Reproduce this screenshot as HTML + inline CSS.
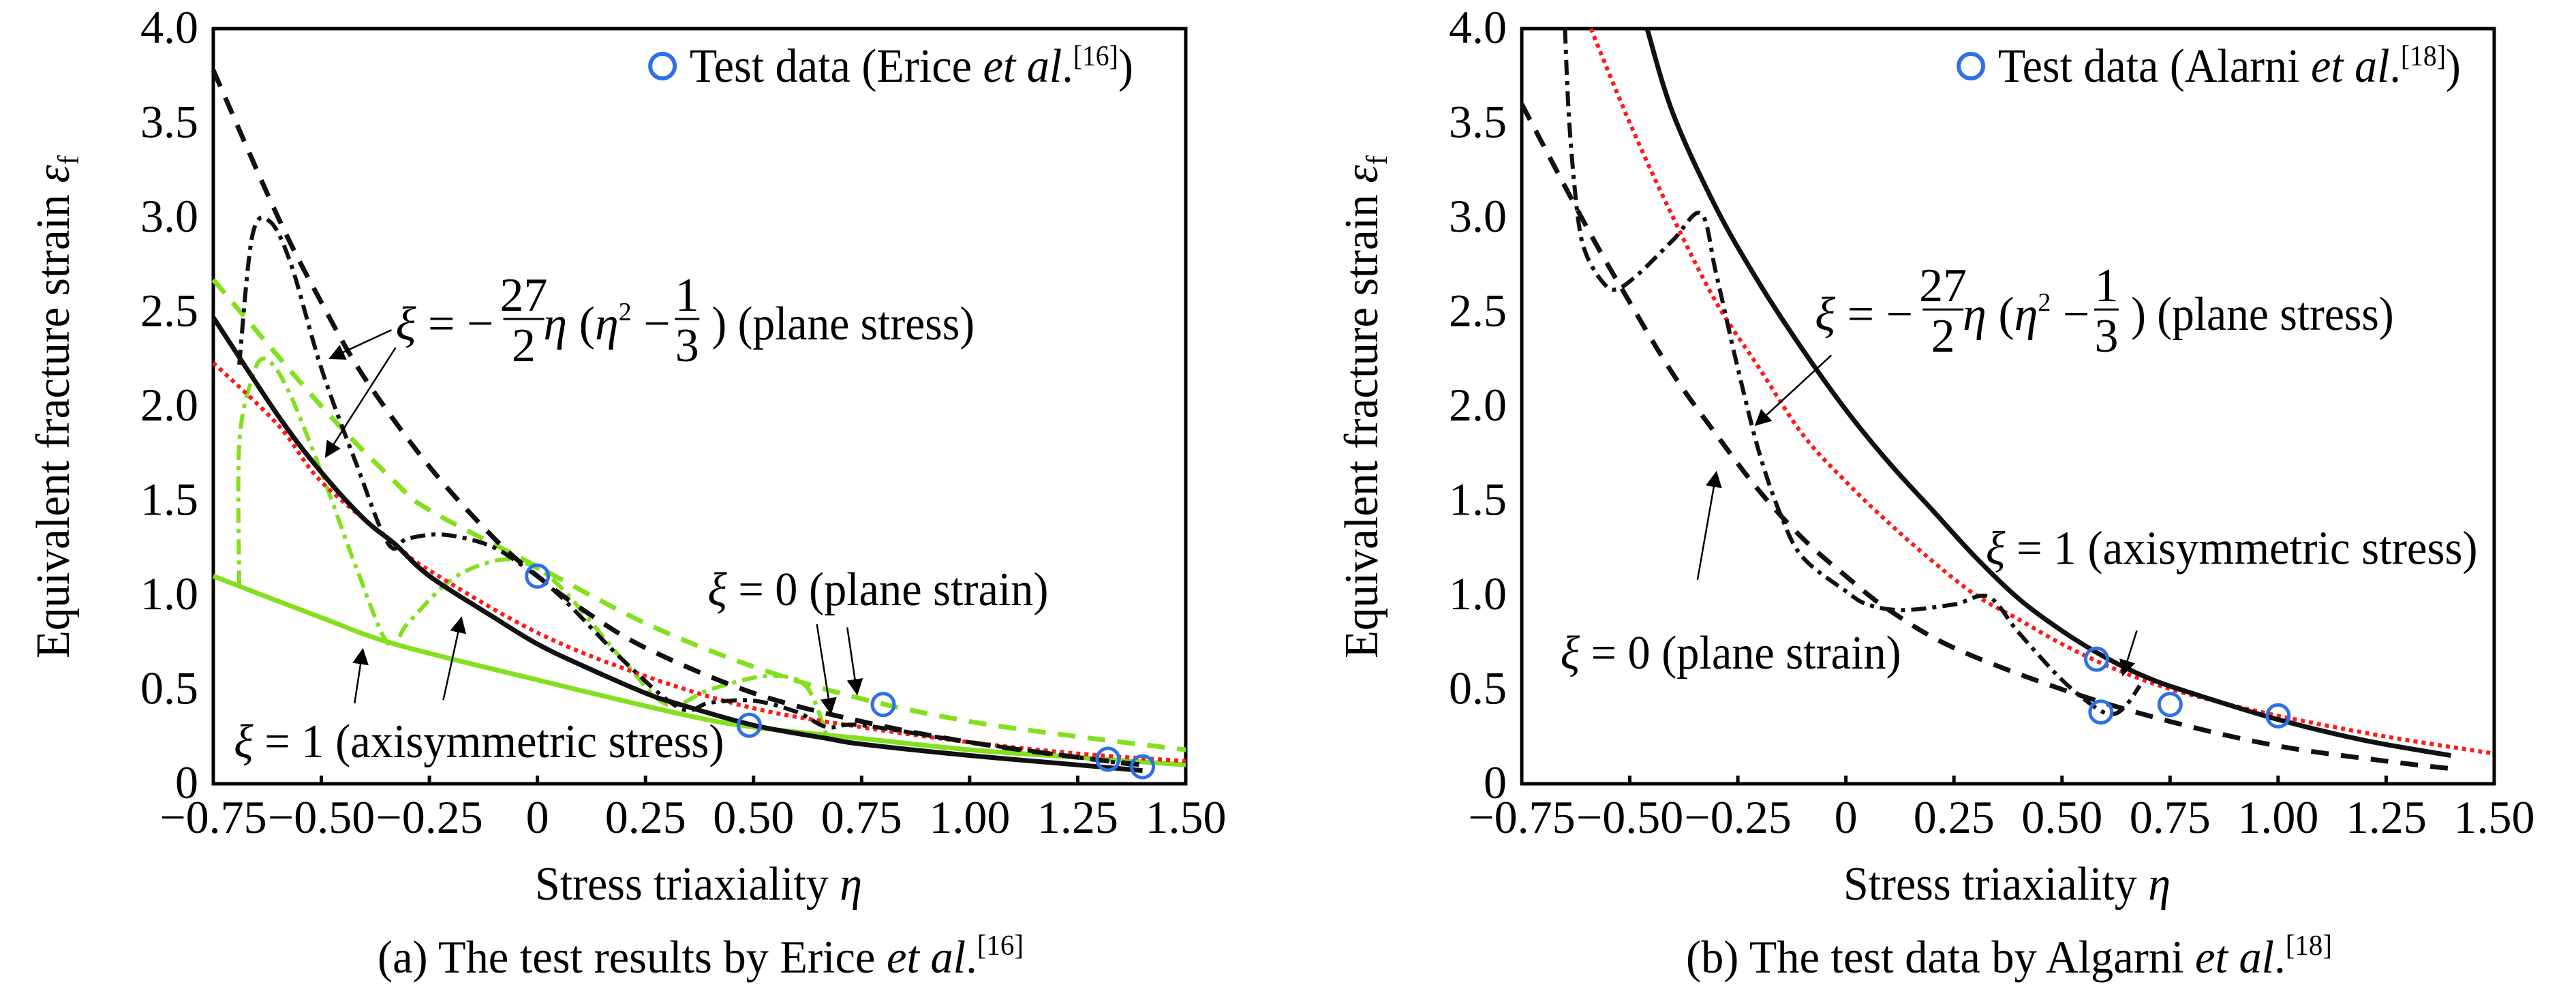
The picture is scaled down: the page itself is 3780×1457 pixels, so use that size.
<!DOCTYPE html>
<html><head><meta charset="utf-8"><style>
html,body{margin:0;padding:0;background:#fff;}
svg{display:block;}
svg text{font-family:"Liberation Serif","Times New Roman",serif;}
</style></head><body>
<svg id="fig" width="3780" height="1457" viewBox="0 0 3780 1457" xmlns="http://www.w3.org/2000/svg" font-family="Liberation Serif, serif">
<defs>
<marker id="ah" viewBox="0 0 10 10" refX="9" refY="5" markerWidth="24" markerHeight="24" markerUnits="userSpaceOnUse" orient="auto"><path d="M0,0 L10,5 L0,10 z" fill="#000"/></marker>
</defs>
</svg>
<script>
// ---------- data: panel (a) ----------
const xTicks = [-0.75,-0.5,-0.25,0,0.25,0.5,0.75,1.0,1.25,1.5];
const xTickLabels = ["\u22120.75","\u22120.50","\u22120.25","0","0.25","0.50","0.75","1.00","1.25","1.50"];
const yTicks = [0,0.5,1,1.5,2,2.5,3,3.5,4];
const yTickLabels = ["0","0.5","1.0","1.5","2.0","2.5","3.0","3.5","4.0"];

const aSolidX = [-0.75,-0.6,-0.5,-0.4,-0.33,-0.25,-0.1,0,0.1,0.25,0.33,0.5,0.67,0.75,1.0,1.25,1.4];
const aSolidY = [2.47,1.95,1.65,1.4,1.27,1.1,0.88,0.74,0.63,0.48,0.42,0.31,0.24,0.21,0.15,0.1,0.07];
const aRedX = [-0.75,-0.6,-0.5,-0.33,-0.25,0,0.25,0.5,0.75,1.0,1.25,1.5];
const aRedY = [2.23,1.9,1.6,1.27,1.13,0.8,0.57,0.4,0.3,0.22,0.16,0.12];
const aGreenSolidX = [-0.75,-0.5,-0.33,0,0.33,0.5,0.75,1.0,1.25,1.5];
const aGreenSolidY = [1.1,0.88,0.74,0.55,0.37,0.3,0.24,0.18,0.14,0.1];
const aDashX = [-0.75,-0.6,-0.5,-0.4,-0.25,-0.1,0,0.1,0.25,0.5,0.75,1.0,1.25,1.4];
const aDashY = [3.78,3.0,2.55,2.15,1.68,1.3,1.1,0.93,0.72,0.48,0.33,0.22,0.14,0.1];
const aGreenDashX = [-0.75,-0.5,-0.33,-0.25,0,0.25,0.5,0.75,1.0,1.25,1.5];
const aGreenDashY = [2.67,2.0,1.6,1.45,1.15,0.85,0.62,0.45,0.33,0.25,0.18];
const aDashDotX = [-0.69,-0.66,-0.62,-0.57,-0.5,-0.42,-0.345,-0.3,-0.22,-0.12,-0.05,0.05,0.2,0.33,0.4,0.5,0.6,0.67,0.75,1.0,1.25,1.38];
const aDashDotY = [2.22,2.9,2.98,2.75,2.2,1.7,1.27,1.3,1.32,1.27,1.18,1.0,0.65,0.4,0.43,0.44,0.38,0.3,0.31,0.22,0.14,0.1];
const aGreenDDX = [-0.69,-0.69,-0.66,-0.63,-0.58,-0.5,-0.42,-0.345,-0.3,-0.2,-0.1,-0.03,0.05,0.2,0.3,0.4,0.53,0.62,0.67];
const aGreenDDY = [1.05,1.8,2.15,2.25,2.1,1.65,1.15,0.74,0.85,1.08,1.18,1.17,1.05,0.65,0.42,0.5,0.57,0.52,0.25];
const aTestX = [0,0.49,0.8,1.32,1.4];
const aTestY = [1.1,0.31,0.42,0.13,0.09];

// ---------- data: panel (b) ----------
const bSolidX = [-0.46,-0.4,-0.3,-0.2,-0.1,0,0.1,0.2,0.3,0.4,0.5,0.6,0.7,0.8,1.0,1.2,1.4];
const bSolidY = [4.0,3.55,3.05,2.65,2.3,1.98,1.7,1.45,1.2,0.98,0.81,0.67,0.56,0.48,0.34,0.23,0.15];
const bRedX = [-0.59,-0.5,-0.4,-0.3,-0.2,-0.1,0,0.1,0.2,0.3,0.4,0.5,0.6,0.7,0.8,1.0,1.25,1.5];
const bRedY = [4.0,3.5,3.0,2.55,2.2,1.85,1.6,1.38,1.18,1.0,0.87,0.74,0.63,0.54,0.47,0.36,0.25,0.16];
const bDashX = [-0.75,-0.6,-0.5,-0.4,-0.3,-0.2,-0.1,0,0.1,0.25,0.5,0.75,1.0,1.25,1.4];
const bDashY = [3.6,2.95,2.55,2.17,1.85,1.55,1.3,1.1,0.92,0.72,0.5,0.33,0.2,0.12,0.08];
const bDashDotX = [-0.65,-0.64,-0.62,-0.6,-0.56,-0.53,-0.48,-0.4,-0.335,-0.3,-0.25,-0.2,-0.15,-0.1,0,0.05,0.13,0.25,0.33,0.4,0.5,0.58,0.62,0.65,0.68];
const bDashDotY = [4.0,3.5,3.0,2.8,2.65,2.62,2.7,2.88,3.02,2.7,2.2,1.75,1.42,1.2,1.02,0.95,0.92,0.95,0.99,0.8,0.55,0.4,0.37,0.42,0.52];
const bTestX = [0.58,0.59,0.75,1.0];
const bTestY = [0.66,0.38,0.42,0.36];

// ---------- rendering ----------
const NS = "http://www.w3.org/2000/svg";
const svg = document.getElementById('fig');
const TOP = 42, BOT = 1150, PXU = 634.2, PYU = 277;
const FONT = '"Liberation Serif", "Times New Roman", serif';
function mk(tag, parent){ const e=document.createElementNS(NS,tag); parent.appendChild(e); return e; }
function sx(L,v){ return L + (v + 0.75) * PXU; }
function sy(v){ return BOT - v * PYU; }
function smoothPath(pts){
  if(pts.length<3) return 'M'+pts.map(p=>p.join(',')).join(' L');
  let d='M'+pts[0][0]+','+pts[0][1];
  for(let i=0;i<pts.length-1;i++){
    const p0=pts[Math.max(i-1,0)],p1=pts[i],p2=pts[i+1],p3=pts[Math.min(i+2,pts.length-1)];
    const c1=[p1[0]+(p2[0]-p0[0])/6,p1[1]+(p2[1]-p0[1])/6];
    const c2=[p2[0]-(p3[0]-p1[0])/6,p2[1]-(p3[1]-p1[1])/6];
    d+=' C'+c1[0].toFixed(1)+','+c1[1].toFixed(1)+' '+c2[0].toFixed(1)+','+c2[1].toFixed(1)+' '+p2[0].toFixed(1)+','+p2[1].toFixed(1);
  }
  return d;
}
function series(g,L,xs,ys,stroke,w,dash,name){
  const pts=xs.map((x,i)=>[sx(L,x),sy(ys[i])]);
  const p=mk('path',g);
  p.setAttribute('d',smoothPath(pts));
  p.setAttribute('fill','none');p.setAttribute('stroke',stroke);p.setAttribute('stroke-width',w);
  if(dash)p.setAttribute('stroke-dasharray',dash);
  
  
}
function text(g,x,y,str,size,opts){
  const t=mk('text',g);
  t.setAttribute('x',x);t.setAttribute('y',y);t.setAttribute('font-size',size);
  t.setAttribute('font-family',FONT);
  t.style.fontFamily=FONT;
  if(opts&&opts.anchor)t.setAttribute('text-anchor',opts.anchor);
  if(opts&&opts.len){t.setAttribute('textLength',opts.len);t.setAttribute('lengthAdjust','spacingAndGlyphs');}
  if(opts&&opts.italic)t.setAttribute('font-style','italic');
  if(opts&&opts.html)t.innerHTML=opts.html;else t.textContent=str;
  return t;
}
function zX(L,off,zx){ return L + (zx-off)*1.205; }
function zY(zy){ return BOT - (1237-zy)*0.9287; }

function panel(L, off, cfg){
  const g=mk('g',svg);
  
  
  const R=sx(L,1.5);
  const fr=mk('rect',g);
  fr.setAttribute('x',L);fr.setAttribute('y',TOP);fr.setAttribute('width',R-L);fr.setAttribute('height',BOT-TOP);
  fr.setAttribute('fill','none');fr.setAttribute('stroke','#000');fr.setAttribute('stroke-width',5);
  
  
  xTicks.forEach((v,i)=>{
    const x=sx(L,v);
    if(i>0&&i<xTicks.length-1){const l=mk('line',g);l.setAttribute('x1',x);l.setAttribute('x2',x);l.setAttribute('y1',BOT);l.setAttribute('y2',BOT-12);l.setAttribute('stroke','#000');l.setAttribute('stroke-width',5);
      
      }
    const t=text(g,x,1222,xTickLabels[i],68,{anchor:'middle'});
    
    
  });
  yTicks.forEach((v,i)=>{
    const y=sy(v);
    const t=text(g,L-22,y+21,yTickLabels[i],68,{anchor:'end'});
    
    
  });
  const xt=text(g,L+712,1320,'',70,{anchor:'middle',len:480,html:'Stress triaxiality <tspan font-style="italic">η</tspan>'});
  
  
  const yx=L-212, yy=597;
  const yt=text(g,yx,yy,'',70,{anchor:'middle',len:738,html:'Equivalent fracture strain <tspan font-style="italic">ε</tspan><tspan font-size="44" dy="14">f</tspan>'});
  yt.setAttribute('transform','rotate(-90 '+yx+' '+yy+')');
  
  
  const cap=text(g,L+715,1427,'',68,{anchor:'middle',len:cfg.capLen,html:cfg.caption});
  
  
  cfg.series.forEach(s=>series(g,L,s[0],s[1],s[2],s[3],s[4],s[5]));
  cfg.tx.forEach((x,i)=>{
    const c=mk('circle',g);c.setAttribute('cx',sx(L,x));c.setAttribute('cy',sy(cfg.ty[i]));c.setAttribute('r',16);
    c.setAttribute('fill','none');c.setAttribute('stroke','#2f6fe8');c.setAttribute('stroke-width',5);
    
    
  });
  const lc=mk('circle',g);lc.setAttribute('cx',zX(L,off,cfg.legZ));lc.setAttribute('cy',97);lc.setAttribute('r',18);
  lc.setAttribute('fill','none');lc.setAttribute('stroke','#2f6fe8');lc.setAttribute('stroke-width',6);
  
  
  const lt=text(g,zX(L,off,cfg.legZ+33),120,'',70,{len:cfg.legLen,html:cfg.legend});
  
  
  const ps=mk('g',g);
  
  
  const z0=cfg.psZ, by=zY(cfg.psY);
  text(ps,zX(L,off,z0),by,'',70,{html:'<tspan font-style="italic">ξ</tspan> = −'});
  const fx1=zX(L,off,z0+156);
  text(ps,fx1,by-42,'27',70,{anchor:'middle'});
  text(ps,fx1,by+32,'2',70,{anchor:'middle'});
  let bar=mk('line',ps);bar.setAttribute('x1',fx1-30);bar.setAttribute('x2',fx1+30);bar.setAttribute('y1',by-30);bar.setAttribute('y2',by-30);bar.setAttribute('stroke','#000');bar.setAttribute('stroke-width',3);
  text(ps,zX(L,off,z0+180),by,'',70,{html:'<tspan font-style="italic">η</tspan> (<tspan font-style="italic">η</tspan><tspan font-size="38" dy="-28">2</tspan><tspan dy="28"> −</tspan>'});
  const fx2=zX(L,off,z0+355);
  text(ps,fx2,by-42,'1',70,{anchor:'middle'});
  text(ps,fx2,by+32,'3',70,{anchor:'middle'});
  bar=mk('line',ps);bar.setAttribute('x1',fx2-18);bar.setAttribute('x2',fx2+18);bar.setAttribute('y1',by-30);bar.setAttribute('y2',by-30);bar.setAttribute('stroke','#000');bar.setAttribute('stroke-width',3);
  text(ps,zX(L,off,z0+385),by,') (plane stress)',70,{len:(320)*1.205});
  cfg.labels.forEach(lb=>{
    const t=text(g,zX(L,off,lb[0]),zY(lb[1]),'',70,{len:lb[2]*1.205,html:lb[3]});
    
    
  });
  cfg.arrows.forEach(a=>{
    const l=mk('line',g);
    l.setAttribute('x1',zX(L,off,a[0]));l.setAttribute('y1',zY(a[1]));l.setAttribute('x2',zX(L,off,a[2]));l.setAttribute('y2',zY(a[3]));
    l.setAttribute('stroke','#000');l.setAttribute('stroke-width',2.5);l.setAttribute('marker-end','url(#ah)');
    
    
  });
}

const GREEN='#84e01e', RED='#ff1a1a';
panel(313,258,{
  name:'panel-a-erice',
  caption:'(a) The test results by Erice <tspan font-style="italic">et al</tspan>.<tspan font-size="42" dy="-26">[16]</tspan>',
  capLen:948,
  legend:'Test data (Erice <tspan font-style="italic">et al</tspan>.<tspan font-size="42" dy="-24">[16]</tspan><tspan dy="24">)</tspan>',
  legZ:805, legLen:651,
  psZ:480, psY:535,
  series:[
    [aGreenSolidX,aGreenSolidY,GREEN,7,null,'axisymmetric-green-solid'],
    [aGreenDashX,aGreenDashY,GREEN,7,'26 18','plane-strain-green-dashed'],
    [aGreenDDX,aGreenDDY,GREEN,6,'22 9 6 9','plane-stress-green-dashdot'],
    [aRedX,aRedY,RED,6,'6 6','red-dotted-curve'],
    [aDashX,aDashY,'#111',7,'26 18','plane-strain-black-dashed'],
    [aDashDotX,aDashDotY,'#111',6,'22 9 6 9','plane-stress-black-dashdot'],
    [aSolidX,aSolidY,'#111',7,null,'axisymmetric-black-solid']
  ],
  tx:aTestX, ty:aTestY,
  labels:[
    [283,1195,597,'<tspan font-style="italic">ξ</tspan> = 1 (axisymmetric stress)','axisymmetric-label'],
    [860,955,415,'<tspan font-style="italic">ξ</tspan> = 0 (plane strain)','plane-strain-label']
  ],
  arrows:[[475,520,400,565],[480,548,395,720],[430,1110,440,1025],[538,1105,560,975],[993,985,1010,1125],[1030,990,1042,1095]]
});
panel(2233,283,{
  name:'panel-b-algarni',
  caption:'(b) The test data by Algarni <tspan font-style="italic">et al</tspan>.<tspan font-size="42" dy="-26">[18]</tspan>',
  capLen:948,
  legend:'Test data (Alarni <tspan font-style="italic">et al</tspan>.<tspan font-size="42" dy="-24">[18]</tspan><tspan dy="24">)</tspan>',
  legZ:830, legLen:679,
  psZ:640, psY:520,
  series:[
    [bRedX,bRedY,RED,6,'6 6','red-dotted-curve'],
    [bDashX,bDashY,'#111',7,'26 18','plane-strain-black-dashed'],
    [bDashDotX,bDashDotY,'#111',6,'22 9 6 9','plane-stress-black-dashdot'],
    [bSolidX,bSolidY,'#111',7,null,'axisymmetric-black-solid']
  ],
  tx:bTestX, ty:bTestY,
  labels:[
    [848,890,599,'<tspan font-style="italic">ξ</tspan> = 1 (axisymmetric stress)','axisymmetric-label'],
    [330,1055,415,'<tspan font-style="italic">ξ</tspan> = 0 (plane strain)','plane-strain-label']
  ],
  arrows:[[660,560,568,670],[497,915,520,745],[1032,995,1015,1065]]
});
</script>
</body></html>
